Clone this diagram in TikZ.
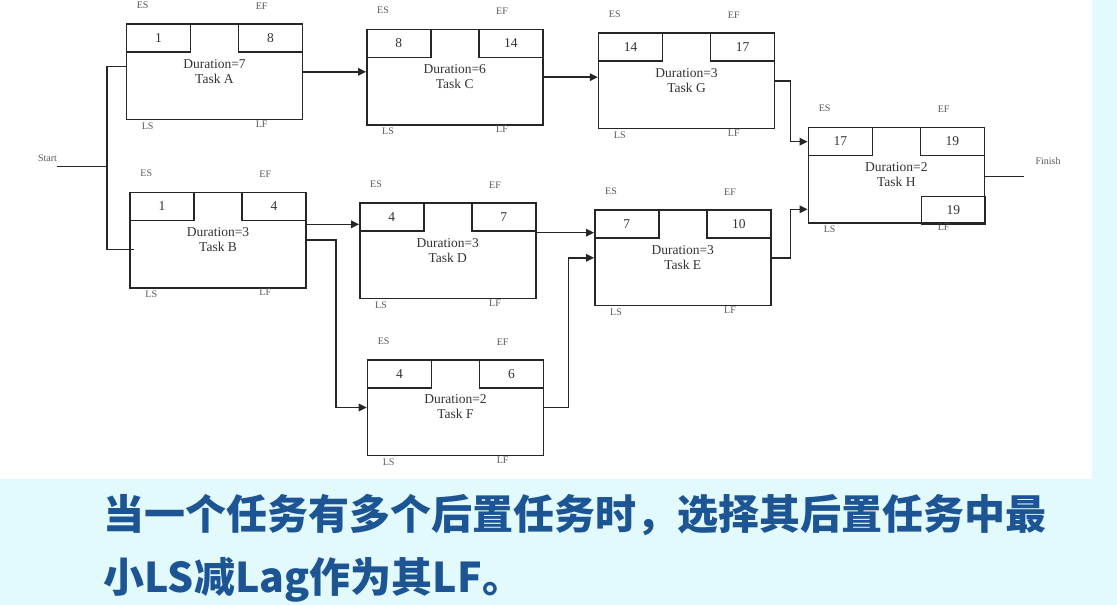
\documentclass[tikz,border=0pt]{standalone}
\usepackage{fontspec}
\setmainfont{Liberation Serif}
\newfontfamily\cjk{Noto Sans CJK SC}
\usetikzlibrary{arrows.meta}
\definecolor{linec}{HTML}{262626}
\definecolor{txtc}{HTML}{333333}
\definecolor{lblc}{HTML}{595959}
\definecolor{cjkc}{RGB}{28,84,148}
\definecolor{bgc}{RGB}{226,250,252}
\newcommand\mktask[6]{%
  \node[taskbox] (#1) at (#2,#3) {};
  \node[subbox, anchor=north west] (#1es) at (#1.north west) {#4};
  \node[subbox, anchor=north east] (#1ef) at (#1.north east) {#5};
  \node[durtxt] (#1t) at ([yshift=-48pt]#1.north) {Duration=#6\\Task #1};
  \node[lbl] (#1ESl) at ([shift={(17pt,18pt)}]#1.north west) {ES};
  \node[lbl] (#1EFl) at ([shift={(136pt,17pt)}]#1.north west) {EF};
  \node[lbl] (#1LSl) at ([shift={(22pt,-6pt)}]#1.south west) {LS};
  \node[lbl] (#1LFl) at ([shift={(136pt,-4pt)}]#1.south west) {LF};
}
\begin{document}
\begin{tikzpicture}[x=1pt,y=-1pt,
  line width=1.5pt,
  taskbox/.style={draw=linec, minimum width=176pt, minimum height=95.5pt, inner sep=0pt, anchor=north west},
  subbox/.style={draw=linec, minimum width=64pt, minimum height=28pt, inner sep=0pt, font=\fontsize{13.5}{15}\selectfont, text=txtc},
  lbl/.style={font=\fontsize{10}{11}\selectfont, text=lblc, inner sep=0pt},
  durtxt/.style={font=\fontsize{13.5}{15}\selectfont, text=txtc, align=center, inner sep=0pt},
  arr/.style={draw=linec, -{Triangle[length=8pt,width=7.5pt]}},
  conn/.style={draw=linec},
  cjktxt/.style={anchor=west, inner sep=0pt, text=cjkc, font=\cjk\bfseries\fontsize{41}{50}\selectfont}
]
\useasboundingbox (0,0) rectangle (1117,605);
\fill[bgc] (0,0) rectangle (1117,605);
\fill[white] (0,0) rectangle (1092,479);

\mktask{A}{125.7}{23.3}{1}{8}{7}
\mktask{B}{129.3}{191.7}{1}{4}{3}
\mktask{C}{366}{28.7}{8}{14}{6}
\mktask{D}{359}{202.3}{4}{7}{3}
\mktask{E}{594}{209.3}{7}{10}{3}
\mktask{F}{366.7}{359}{4}{6}{2}
\mktask{G}{597.8}{32.3}{14}{17}{3}
\mktask{H}{807.6}{126.7}{17}{19}{2}
\node[subbox, anchor=south east] (Hlf) at ([shift={(1pt,-1.3pt)}]H.south east) {19};

% start
\node[lbl] (start) at (47.5,158.7) {Start};
\coordinate (s0) at (57,166.7);
\coordinate (j0) at (107,166.7);
\coordinate (j1) at (107,66.7);
\coordinate (j2) at (107,249.3);
\draw[conn] (s0) -- (j0);
\draw[conn] (j1 -| A.west) -- (j1) -- (j2) -- ([xshift=5pt]j2 -| B.west);

% connectors
\draw[arr] (A.east) -- (A.east -| C.west);
\draw[arr] (C.east) -- (C.east -| G.west);
\coordinate (gh) at (790.3,141.7);
\draw[arr] (G.east) -| (gh) -- (gh -| H.west);
\coordinate (eh) at (790.3,209.3);
\draw[arr] (E.east) -| (eh) -- (eh -| H.west);
\draw[arr] (B.east |- 0,224.3) -- (D.west |- 0,224.3);
\coordinate (bf) at (336,0);
\draw[arr] (B.east) -| (bf |- F.west) -- (F.west);
\draw[arr] (D.east |- 0,232.7) -- (E.west |- 0,232.7);
\coordinate (fe) at (568.5,0);
\draw[arr] (F.east) -| (fe |- E.west) -- (E.west);

% finish
\coordinate (fin) at (1024,176.7);
\draw[conn] (H.east |- fin) -- (fin);
\node[lbl] (finish) at (1048,161) {Finish};

% caption
\node[cjktxt] (cap1) at (103,515.5) {当一个任务有多个后置任务时，选择其后置任务中最};
\node[cjktxt] (cap2) at (103,579.5) {小LS减Lag作为其LF。};
\end{tikzpicture}
\end{document}
